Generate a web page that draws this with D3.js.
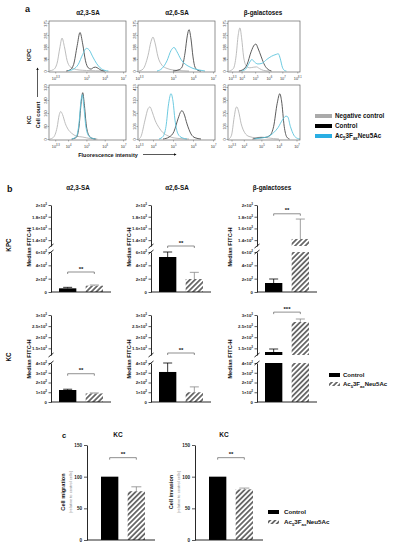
<!DOCTYPE html>
<html><head><meta charset="utf-8">
<script src="https://cdn.jsdelivr.net/npm/d3@7"></script>
<style>body{margin:0;background:#fff} svg{display:block} text{font-family:"Liberation Sans",Arial,sans-serif}</style>
</head><body><svg id="c" width="394" height="550"></svg>
<script>
// ---------------- DATA ----------------
const columns = ["α2,3-SA", "α2,6-SA", "β-galactoses"];
const rowNames = ["KPC", "KC"];
const legendA = ["Negative control", "Control", "TREATED"];
const groups = ["Control", "Treated"];

// histogram axes (exponent of 10)
const histXTicksTop = [[3.3, 5, 6, 7], [3.3, 5, 6, 7], [3.3, 4, 5, 6, 7, 8.1]];
const histXTicksBot = [[3.3, 4, 5, 6, 7], [3.3, 4, 5, 6, 7], [3.3, 4, 5, 6, 7]];
const histXDomTop = [[2.96, 7.16], [3.25, 7.1], [3.0, 8.3]];
const histXDomBot = [[2.96, 7.16], [3.25, 7.1], [3.1, 7.2]];
const histYMax = [[375, 375, 375], [320, 413, 410]];

// histogram curves: [log10 intensity, count]
const kpcA23Neg = [[3.0,2],[3.2,10],[3.4,60],[3.55,180],[3.67,257],[3.8,190],[3.95,80],[4.1,35],[4.3,18],[4.6,8],[5.0,4],[5.5,2],[6.0,0]];
const kpcA23Ctrl = [[3.9,0],[4.1,8],[4.3,50],[4.5,200],[4.65,301],[4.8,210],[4.95,80],[5.1,25],[5.25,15],[5.4,28],[5.5,30],[5.65,20],[5.8,6],[6.0,0]];
const kpcA23Trt = [[4.0,2],[4.3,15],[4.55,50],[4.8,130],[5.0,177],[5.15,165],[5.35,110],[5.55,60],[5.75,25],[6.0,5],[6.2,0]];
const kpcA26Neg = [[3.3,0],[3.5,15],[3.75,120],[3.9,230],[4.0,265],[4.1,220],[4.25,110],[4.45,45],[4.7,20],[5.0,8],[5.4,3],[5.8,0]];
const kpcA26Ctrl = [[5.0,0],[5.3,10],[5.45,30],[5.6,140],[5.72,280],[5.8,323],[5.9,250],[6.0,110],[6.1,30],[6.25,5],[6.4,0]];
const kpcA26Trt = [[4.2,0],[4.45,20],[4.7,80],[4.9,160],[5.05,184],[5.2,150],[5.4,90],[5.6,55],[5.8,35],[6.0,20],[6.3,8],[6.6,0]];
const kpcBgNeg = [[3.1,0],[3.4,20],[3.6,120],[3.75,280],[3.88,337],[4.0,260],[4.15,110],[4.35,40],[4.6,25],[4.9,30],[5.1,32],[5.3,20],[5.6,5],[6.0,0]];
const kpcBgCtrl = [[3.8,0],[4.1,10],[4.4,50],[4.7,150],[4.95,205],[5.06,210],[5.2,180],[5.45,110],[5.7,45],[5.95,12],[6.2,0]];
const kpcBgTrt = [[4.0,0],[4.3,15],[4.55,60],[4.76,90],[4.95,70],[5.2,55],[5.5,60],[5.85,90],[6.2,115],[6.55,130],[6.7,135],[6.85,95],[7.0,30],[7.15,5],[7.3,0]];
const kcA23Neg = [[3.0,0],[3.2,10],[3.4,70],[3.52,150],[3.6,169],[3.7,150],[3.85,95],[4.0,60],[4.2,35],[4.45,18],[4.8,12],[5.2,3],[5.6,0]];
const kcA23Ctrl = [[4.2,0],[4.45,10],[4.6,80],[4.72,230],[4.8,285],[4.88,220],[5.0,80],[5.15,20],[5.3,5],[5.5,0]];
const kcA23Trt = [[4.2,0],[4.45,15],[4.6,100],[4.7,230],[4.78,273],[4.86,200],[4.98,70],[5.15,15],[5.35,3],[5.5,0]];
const kcA26Neg = [[3.3,0],[3.4,20],[3.6,150],[3.75,240],[3.85,255],[3.95,220],[4.1,150],[4.3,90],[4.5,50],[4.75,25],[5.0,10],[5.4,3],[5.8,0]];
const kcA26Ctrl = [[4.5,0],[4.8,15],[5.05,60],[5.25,160],[5.4,220],[5.45,225],[5.55,200],[5.7,120],[5.9,40],[6.1,10],[6.4,0]];
const kcA26Trt = [[4.3,0],[4.5,20],[4.65,100],[4.78,280],[4.9,360],[5.0,300],[5.1,150],[5.25,40],[5.45,10],[5.7,0]];
const kcBgNeg = [[3.15,0],[3.3,30],[3.45,170],[3.55,245],[3.6,253],[3.7,220],[3.85,120],[4.05,50],[4.3,20],[4.7,10],[5.0,15],[5.3,10],[5.7,3],[6.0,0]];
const kcBgCtrl = [[4.5,0],[4.9,10],[5.2,12],[5.5,30],[5.7,100],[5.9,280],[6.05,357],[6.15,300],[6.3,100],[6.45,15],[6.6,0]];
const kcBgTrt = [[4.6,0],[5.0,8],[5.4,20],[5.7,50],[5.95,90],[6.2,150],[6.4,180],[6.5,175],[6.65,100],[6.85,30],[7.05,5],[7.2,0]];

// panel b: Median FITC-H
const kpcControl = [55, 525, 135];
const kpcControlErr = [15, 75, 60];
const kpcTreated = [95, 195, 1420];
const kpcTreatedErr = [10, 100, 340];
const kcControl = [123, 308, 1335];
const kcControlErr = [8, 92, 135];
const kcTreated = [88, 100, 2685];
const kcTreatedErr = [5, 55, 135];
const kpcSig = ["**", "**", "**"];
const kcSig = ["**", "**", "***"];
const kpcSigLevel = [300, 1300, 1850];
const kcSigLevel = [290, 1290, 3130];
const kpcLowerTicks = [0, 200, 400, 600];
const kpcUpperTicks = [1400, 1600, 1800, 2000];
const kcLowerTicks = [0, 100, 200, 300, 400];
const kcUpperTicks = [1500, 2000, 2500, 3000];
const kpcLowerDom = [0, 600], kpcUpperDom = [1300, 2000];
const kcLowerDom = [0, 400], kcUpperDom = [1200, 3000];

// panel c
const cTitles = ["KC", "KC"];
const cYLabels = ["Cell migration", "Cell invasion"];
const cYSub = "(relative to control cells)";
const cTicks = [0, 50, 100, 150];
const cControl = [100, 100];
const cTreated = [77, 80];
const cTreatedErr = [7, 2];
const cSig = ["**", "**"];
const cSigLevel = [130, 130];

// ---------------- DRAW ----------------
const FONT = '"Liberation Sans",Arial,sans-serif';
const svg = d3.select('#c');
const defs = svg.append('defs');
const pat = defs.append('pattern').attr('id', 'hatch').attr('patternUnits', 'userSpaceOnUse')
  .attr('width', 3.6).attr('height', 3.6).attr('patternTransform', 'rotate(45)');
pat.append('rect').attr('width', 3.6).attr('height', 3.6).attr('fill', '#fff');
pat.append('line').attr('x1', 0.9).attr('y1', 0).attr('x2', 0.9).attr('y2', 3.6).attr('stroke', '#555').attr('stroke-width', 1.6);

const colNeg = '#b5b5b5', colCtrl = '#4a4a4a', colTrt = '#5cc4dd';

function txt(x, y, s, fs, opts = {}) {
  const t = svg.append('text').attr('x', x).attr('y', y).attr('font-size', fs)
    .attr('font-weight', opts.bold === false ? 'normal' : 'bold')
    .attr('fill', opts.fill || '#111').attr('text-anchor', opts.anchor || 'start');
  if (opts.rot) t.attr('transform', `rotate(-90,${x},${y})`);
  t.text(s);
  return t;
}
function treatedLabel(sel, fs) {
  sel.text(null);
  sel.append('tspan').text('Ac');
  sel.append('tspan').attr('font-size', fs * 0.7).attr('dy', fs * 0.3).text('5');
  sel.append('tspan').attr('dy', -fs * 0.3).text('3F');
  sel.append('tspan').attr('font-size', fs * 0.7).attr('dy', fs * 0.3).text('ax');
  sel.append('tspan').attr('dy', -fs * 0.3).text('Neu5Ac');
}
function supLabel(sel, base, exp, fs) {
  sel.text(null);
  sel.append('tspan').text(base);
  sel.append('tspan').attr('font-size', fs * 0.7).attr('dy', -fs * 0.45).text(exp);
}

// ---- panel a ----
txt(25, 12, 'a', 9);
const histCols = [[49, 126], [138, 215], [228, 300]];
const histRows = [[21, 72], [85, 140]];
const colTitleX = [88, 177, 263];
columns.forEach((c, i) => txt(colTitleX[i], 15, c, 6.3, { anchor: 'middle' }));
const histCurves = [
  [[kpcA23Neg, kpcA23Ctrl, kpcA23Trt], [kpcA26Neg, kpcA26Ctrl, kpcA26Trt], [kpcBgNeg, kpcBgCtrl, kpcBgTrt]],
  [[kcA23Neg, kcA23Ctrl, kcA23Trt], [kcA26Neg, kcA26Ctrl, kcA26Trt], [kcBgNeg, kcBgCtrl, kcBgTrt]]
];
const curveCols = [colNeg, colCtrl, colTrt];
for (let r = 0; r < 2; r++) {
  for (let c = 0; c < 3; c++) {
    const [x0, x1] = histCols[c], [y0, y1] = histRows[r];
    const dom = (r === 0 ? histXDomTop : histXDomBot)[c];
    const ticks = (r === 0 ? histXTicksTop : histXTicksBot)[c];
    const xs = d3.scaleLog().domain([10 ** dom[0], 10 ** dom[1]]).range([x0, x1]);
    const ymax = histYMax[r][c];
    const ys = d3.scaleLinear().domain([0, ymax]).range([y1 - 1, y0 + 2]);
    const g = svg.append('g');
    const line = d3.line().x(d => xs(10 ** d[0])).y(d => ys(d[1])).curve(d3.curveMonotoneX);
    histCurves[r][c].forEach((cv, k) => {
      g.append('path').attr('d', line(cv)).attr('fill', 'none').attr('stroke', curveCols[k]).attr('stroke-width', 0.9);
    });
    g.append('rect').attr('x', x0).attr('y', y0).attr('width', x1 - x0).attr('height', y1 - y0)
      .attr('fill', 'none').attr('stroke', '#666').attr('stroke-width', 0.7);
    // x axis
    const xa = svg.append('g').attr('transform', `translate(0,${y1})`)
      .call(d3.axisBottom(xs).tickValues(ticks.map(e => 10 ** e)).tickSize(1.5).tickSizeOuter(0).tickFormat(() => ''));
    xa.select('.domain').remove();
    xa.selectAll('.tick line').attr('stroke', '#666').attr('stroke-width', 0.5);
    xa.selectAll('.tick text').attr('font-size', 3.8).attr('fill', '#333').attr('y', 5.5).attr('font-family', FONT)
      .each(function (d, i) { supLabel(d3.select(this), '10', String(ticks[i]), 3.8); });
    // y axis
    const yt = [0, ymax / 4, ymax / 2, 3 * ymax / 4, ymax].map(v => Math.round(v));
    const ya = svg.append('g').attr('transform', `translate(${x0},0)`)
      .call(d3.axisLeft(ys).tickValues(yt).tickSize(1.5).tickSizeOuter(0).tickFormat(d3.format('d')));
    ya.select('.domain').remove();
    ya.selectAll('.tick line').attr('stroke', '#666').attr('stroke-width', 0.5);
    ya.selectAll('.tick text').attr('font-size', 3.8).attr('fill', '#333').attr('font-family', FONT)
      .attr('text-anchor', 'middle').attr('x', 0).attr('y', -2.5).attr('dy', 0)
      .attr('transform', 'rotate(-90)');
  }
}
txt(31, 55, 'KPC', 6, { anchor: 'middle', rot: true });
txt(31, 120, 'KC', 6, { anchor: 'middle', rot: true });
txt(39.5, 115, 'Cell count', 5.5, { anchor: 'middle', rot: true });
txt(108, 156.5, 'Fluorescence intensity', 5.5, { anchor: 'middle' });
defs.append('marker').attr('id', 'arr').attr('viewBox', '0 0 10 10').attr('refX', 8).attr('refY', 5)
  .attr('markerWidth', 4).attr('markerHeight', 4).attr('orient', 'auto')
  .append('path').attr('d', 'M0,0L10,5L0,10z').attr('fill', '#111');
svg.append('line').attr('x1', 37.5).attr('y1', 97).attr('x2', 37.5).attr('y2', 68).attr('stroke', '#111').attr('stroke-width', 0.7).attr('marker-end', 'url(#arr)');
svg.append('line').attr('x1', 143).attr('y1', 154.5).attr('x2', 176).attr('y2', 154.5).attr('stroke', '#111').attr('stroke-width', 0.7).attr('marker-end', 'url(#arr)');
// legend a
const legColsA = ['#aaaaaa', '#000000', '#2aaee3'];
legendA.forEach((s, i) => {
  const y = 116 + i * 10;
  svg.append('line').attr('x1', 315).attr('x2', 332).attr('y1', y).attr('y2', y).attr('stroke', legColsA[i]).attr('stroke-width', 4);
  const t = txt(335, y + 2.3, s, 6.3);
  if (s === 'TREATED') treatedLabel(t, 6.3);
});

// ---- panel b ----
txt(7, 192, 'b', 9);
const bAxisX = [51, 151, 257];
const bTitleX = [78, 177, 272];
const bYLabelX = [31, 131, 232];
columns.forEach((c, i) => txt(bTitleX[i], 190, c, 6.3, { anchor: 'middle' }));
function fmtSci(v) {
  if (v === 0) return null;
  const e = Math.floor(Math.log10(v) + 1e-9);
  const m = +(v / 10 ** e).toFixed(2);
  return [m + '×10', String(e)];
}
const bRows = [
  { name: 'KPC', ctrl: kpcControl, ctrlErr: kpcControlErr, trt: kpcTreated, trtErr: kpcTreatedErr, sig: kpcSig, sigLevel: kpcSigLevel,
    lt: kpcLowerTicks, ut: kpcUpperTicks, ld: kpcLowerDom, ud: kpcUpperDom, lr: [292, 252], ur: [246, 205], labelY: 247 },
  { name: 'KC', ctrl: kcControl, ctrlErr: kcControlErr, trt: kcTreated, trtErr: kcTreatedErr, sig: kcSig, sigLevel: kcSigLevel,
    lt: kcLowerTicks, ut: kcUpperTicks, ld: kcLowerDom, ud: kcUpperDom, lr: [402, 363], ur: [355, 315], labelY: 359 }
];
function styleAxis(a, fs) {
  a.selectAll('.domain').attr('stroke', '#111').attr('stroke-width', 0.9);
  a.selectAll('.tick line').attr('stroke', '#111').attr('stroke-width', 0.7);
  a.selectAll('.tick text').attr('font-size', fs).attr('font-weight', 'bold').attr('fill', '#222').attr('font-family', FONT);
}
bRows.forEach(R => {
  txt(10.5, R.labelY - 2, R.name, 6.3, { anchor: 'middle', rot: true });
  const lower = d3.scaleLinear().domain(R.ld).range(R.lr);
  const upper = d3.scaleLinear().domain(R.ud).range(R.ur);
  const yv = v => v <= R.ld[1] ? lower(v) : upper(v);
  for (let i = 0; i < 3; i++) {
    const ax = bAxisX[i];
    const xb = d3.scaleBand().domain(groups).range([ax, ax + 60]).paddingInner(0.35).paddingOuter(0.3);
    const g = svg.append('g');
    const vals = [R.ctrl[i], R.trt[i]], errs = [R.ctrlErr[i], R.trtErr[i]];
    groups.forEach((grp, k) => {
      const v = vals[k];
      const fill = k === 0 ? '#000' : 'url(#hatch)';
      const segs = v <= R.ld[1] ? [[lower(0), lower(v)]] : [[lower(0), lower(R.ld[1])], [upper(R.ud[0]), upper(v)]];
      segs.forEach(([yb, yt]) => g.append('rect').attr('x', xb(grp)).attr('width', xb.bandwidth())
        .attr('y', yt).attr('height', yb - yt).attr('fill', fill));
      const cx = xb(grp) + xb.bandwidth() / 2, ec = k === 0 ? '#000' : '#888';
      const ytop = yv(v + errs[k]);
      g.append('line').attr('x1', cx).attr('x2', cx).attr('y1', yv(v)).attr('y2', ytop).attr('stroke', ec).attr('stroke-width', 0.8);
      g.append('line').attr('x1', cx - 4.5).attr('x2', cx + 4.5).attr('y1', ytop).attr('y2', ytop).attr('stroke', ec).attr('stroke-width', 0.8);
    });
    // significance
    const sy = yv(R.sigLevel[i]);
    const bx0 = xb('Control') + xb.bandwidth() / 2, bx1 = xb('Treated') + xb.bandwidth() / 2;
    g.append('path').attr('d', `M${bx0},${sy + 2}V${sy}H${bx1}V${sy + 2}`).attr('fill', 'none').attr('stroke', '#444').attr('stroke-width', 0.6);
    txt((bx0 + bx1) / 2, sy - 1.5, R.sig[i], 6, { anchor: 'middle' });
    // axes
    const fs = 4.3;
    [[lower, R.lt], [upper, R.ut]].forEach(([sc, tv]) => {
      const a = svg.append('g').attr('transform', `translate(${ax},0)`)
        .call(d3.axisLeft(sc).tickValues(tv).tickSize(2.5).tickSizeOuter(0).tickPadding(1.5).tickFormat(() => ''));
      styleAxis(a, fs);
      a.selectAll('.tick text').each(function (d) {
        const f = fmtSci(d);
        if (f) supLabel(d3.select(this), f[0], f[1], fs); else d3.select(this).text('0');
      });
    });
    // break marks
    [R.lr[1], R.ur[0]].forEach(y => svg.append('line').attr('x1', ax - 2.5).attr('y1', y + 2).attr('x2', ax + 2.5).attr('y2', y - 2)
      .attr('stroke', '#111').attr('stroke-width', 0.9));
    svg.append('line').attr('x1', ax).attr('x2', ax + 60).attr('y1', lower(0)).attr('y2', lower(0)).attr('stroke', '#111').attr('stroke-width', 0.9);
    txt(bYLabelX[i], R.labelY, 'Median  FITC-H', 5.6, { anchor: 'middle', rot: true });
  }
});
// legend b
svg.append('rect').attr('x', 329).attr('y', 373).attr('width', 11).attr('height', 4).attr('fill', '#000');
txt(343, 377.2, 'Control', 6);
svg.append('rect').attr('x', 329).attr('y', 382).attr('width', 11).attr('height', 4).attr('fill', 'url(#hatch)');
treatedLabel(txt(343, 386.2, '', 6), 6);

// ---- panel c ----
txt(62, 438, 'c', 7.5);
const cAxisX = [87, 195];
const cTitleX = [118, 224];
const yc = d3.scaleLinear().domain([0, 150]).range([540, 445]);
for (let i = 0; i < 2; i++) {
  const ax = cAxisX[i];
  txt(cTitleX[i], 437, cTitles[i], 6.5, { anchor: 'middle' });
  const xb = d3.scaleBand().domain(groups).range([ax + 6, ax + 66]).paddingInner(0.35).paddingOuter(0.3);
  const vals = [cControl[i], cTreated[i]], errs = [0, cTreatedErr[i]];
  groups.forEach((grp, k) => {
    svg.append('rect').attr('x', xb(grp)).attr('width', xb.bandwidth()).attr('y', yc(vals[k])).attr('height', yc(0) - yc(vals[k]))
      .attr('fill', k === 0 ? '#000' : 'url(#hatch)');
    if (errs[k] > 0) {
      const cx = xb(grp) + xb.bandwidth() / 2, yt = yc(vals[k] + errs[k]);
      svg.append('line').attr('x1', cx).attr('x2', cx).attr('y1', yc(vals[k])).attr('y2', yt).attr('stroke', '#888').attr('stroke-width', 0.8);
      svg.append('line').attr('x1', cx - 5).attr('x2', cx + 5).attr('y1', yt).attr('y2', yt).attr('stroke', '#888').attr('stroke-width', 0.8);
    }
  });
  const sy = yc(cSigLevel[i]);
  const bx0 = xb('Control') + xb.bandwidth() / 2, bx1 = xb('Treated') + xb.bandwidth() / 2;
  svg.append('path').attr('d', `M${bx0},${sy + 2}V${sy}H${bx1}V${sy + 2}`).attr('fill', 'none').attr('stroke', '#444').attr('stroke-width', 0.6);
  txt((bx0 + bx1) / 2, sy - 2, cSig[i], 6, { anchor: 'middle' });
  const a = svg.append('g').attr('transform', `translate(${ax},0)`)
    .call(d3.axisLeft(yc).tickValues(cTicks).tickSize(3).tickSizeOuter(0).tickPadding(2).tickFormat(d3.format('d')));
  styleAxis(a, 4.6);
  svg.append('line').attr('x1', ax).attr('x2', ax + 68).attr('y1', yc(0)).attr('y2', yc(0)).attr('stroke', '#111').attr('stroke-width', 0.9);
  txt(ax - 22, 492, cYLabels[i], 5.6, { anchor: 'middle', rot: true });
  txt(ax - 15.5, 492, cYSub, 4, { anchor: 'middle', rot: true, bold: false, fill: '#888' });
}
svg.append('rect').attr('x', 268).attr('y', 510).attr('width', 11).attr('height', 4).attr('fill', '#000');
txt(284, 514.2, 'Control', 6.2);
svg.append('rect').attr('x', 268).attr('y', 520).attr('width', 11).attr('height', 4).attr('fill', 'url(#hatch)');
treatedLabel(txt(284, 524.2, '', 6.2), 6.2);
</script></body></html>
